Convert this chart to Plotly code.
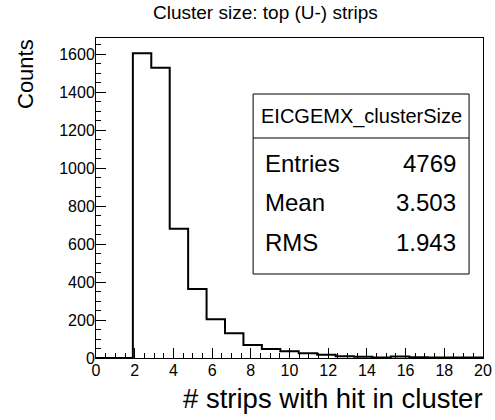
import plotly.graph_objects as go

# Histogram definition (21 bins from 0 to 20)
nbins = 21
xmin, xmax = 0.0, 20.0
counts = [0, 0, 1605, 1529, 681, 364, 204, 130, 68, 48, 35, 25, 17, 9, 6, 2, 8, 4, 3, 3, 2]

title = "Cluster size: top (U-) strips"
xtitle = "# strips with hit in cluster"
ytitle = "Counts"
stats_name = "EICGEMX_clusterSize"
stats_labels = ["Entries", "Mean", "RMS"]
stats_values = ["4769", "3.503", "1.943"]

width = (xmax - xmin) / nbins
edges = [xmin + i * width for i in range(nbins)] + [xmax]
ys = counts + [counts[-1]]

FONT = "Liberation Sans, Arial, Helvetica, sans-serif"

fig = go.Figure()
fig.add_trace(go.Scatter(x=edges, y=ys, mode="lines", line=dict(shape="hv", color="black", width=2),
                         hoverinfo="skip", showlegend=False))

ymax = max(counts) * 1.05

fig.update_layout(
    width=495, height=420,
    margin=dict(l=96, r=12, t=38, b=62),
    paper_bgcolor="white", plot_bgcolor="white",
    font=dict(family=FONT, color="black"),
    showlegend=False,
    xaxis=dict(range=[xmin, xmax], showgrid=False, zeroline=False, automargin=False,
               showline=True, linecolor="black", linewidth=1, mirror=True,
               ticks="inside", ticklen=10, tickcolor="black", tickwidth=1,
               tick0=0, dtick=2, tickfont=dict(size=16), ticklabelstandoff=-2,
               minor=dict(ticks="inside", ticklen=5, dtick=0.5, tickcolor="black", tickwidth=1)),
    yaxis=dict(range=[0, ymax], showgrid=False, zeroline=False, automargin=False,
               showline=True, linecolor="black", linewidth=1, mirror=True,
               ticks="inside", ticklen=10, tickcolor="black", tickwidth=1,
               tick0=0, dtick=200, tickfont=dict(size=16), ticklabelstandoff=-3,
               minor=dict(ticks="inside", ticklen=5, dtick=50, tickcolor="black", tickwidth=1)),
)

anns = []
anns.append(dict(text=title, xref="paper", yref="paper", x=0.437, y=1.0, yshift=26,
                 xanchor="center", yanchor="middle", showarrow=False, font=dict(size=19)))
anns.append(dict(text=xtitle, xref="paper", yref="paper", x=1.0, y=0, yshift=-40, xshift=2,
                 xanchor="right", yanchor="middle", showarrow=False, font=dict(size=27.5)))
anns.append(dict(text=ytitle, xref="paper", yref="paper", x=0, xshift=-71, y=1.0, yshift=1,
                 xanchor="center", yanchor="top", textangle=-90, showarrow=False, font=dict(size=22)))

# stats box
bx0, bx1 = 0.406, 0.964
by0, by1 = 0.2625, 0.825
bdiv = 0.6875
row_y = [0.609, 0.486, 0.3625]
shapes = [
    dict(type="rect", xref="paper", yref="paper", x0=bx0, x1=bx1, y0=by0, y1=by1,
         line=dict(color="black", width=1), fillcolor="white"),
    dict(type="line", xref="paper", yref="paper", x0=bx0, x1=bx1, y0=bdiv, y1=bdiv,
         line=dict(color="black", width=1)),
]
anns.append(dict(text=stats_name, xref="paper", yref="paper", x=(bx0 + bx1) / 2, y=(by1 + bdiv) / 2,
                 xanchor="center", yanchor="middle", showarrow=False, font=dict(size=20)))
for lab, val, yc in zip(stats_labels, stats_values, row_y):
    anns.append(dict(text=lab, xref="paper", yref="paper", x=bx0 + 0.025, y=yc,
                     xanchor="left", yanchor="middle", showarrow=False, font=dict(size=24)))
    anns.append(dict(text=val, xref="paper", yref="paper", x=bx1 - 0.028, y=yc,
                     xanchor="right", yanchor="middle", showarrow=False, font=dict(size=24)))

fig.update_layout(annotations=anns, shapes=shapes)
fig.write_html("out.html", config={"displayModeBar": False},
               post_script="document.body.style.margin='0';document.body.style.overflow='hidden';")
